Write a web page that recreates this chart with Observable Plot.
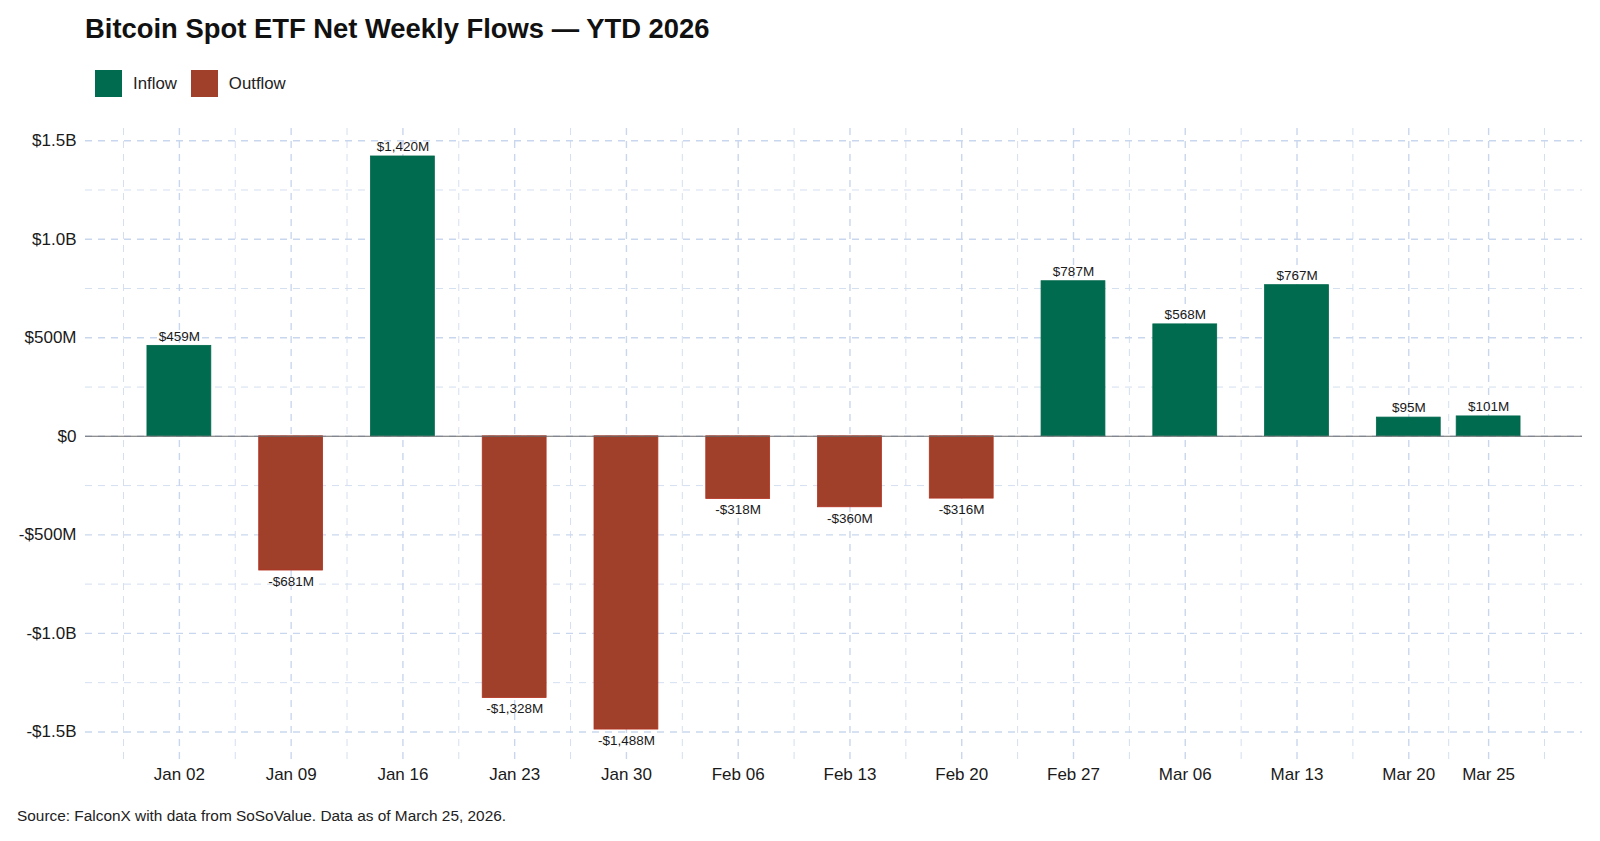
<!DOCTYPE html>
<html>
<head>
<meta charset="utf-8">
<script src="https://cdn.jsdelivr.net/npm/d3@7"></script>
<script src="https://cdn.jsdelivr.net/npm/@observablehq/plot@0.6"></script>
<style>
  html, body { margin: 0; padding: 0; background: #fff; }
  body { width: 1600px; height: 841px; position: relative; font-family: "Liberation Sans", Arial, sans-serif; color: #111; overflow: hidden; }
  #title { position: absolute; left: 85px; top: 12px; font-size: 27.4px; font-weight: bold; color: #111; white-space: nowrap; line-height: 34px; }
  #legend { position: absolute; left: 95px; top: 70px; display: flex; align-items: center; font-size: 16.8px; color: #222; }
  .sw { width: 27px; height: 27px; display: inline-block; }
  .lab { margin-left: 11px; margin-right: 14px; }
  #chart { position: absolute; left: 0; top: 110px; }
  #caption { position: absolute; left: 17px; top: 807px; font-size: 15.4px; color: #222; white-space: nowrap; line-height: 18px; }
</style>
</head>
<body>
<div id="title">Bitcoin Spot ETF Net Weekly Flows — YTD 2026</div>
<div id="legend">
  <span class="sw" style="background:#006b4f"></span><span class="lab">Inflow</span>
  <span class="sw" style="background:#a0402b"></span><span class="lab">Outflow</span>
</div>
<div id="chart"></div>
<div id="caption">Source: FalconX with data from SoSoValue. Data as of March 25, 2026.</div>
<script>
// Data
const weeks = ["2026-01-02","2026-01-09","2026-01-16","2026-01-23","2026-01-30","2026-02-06","2026-02-13","2026-02-20","2026-02-27","2026-03-06","2026-03-13","2026-03-20","2026-03-25"];
const weekLabels = ["Jan 02","Jan 09","Jan 16","Jan 23","Jan 30","Feb 06","Feb 13","Feb 20","Feb 27","Mar 06","Mar 13","Mar 20","Mar 25"];
const flowsM = [459, -681, 1420, -1328, -1488, -318, -360, -316, 787, 568, 767, 95, 101];
const yTicks = [-1500, -1000, -500, 0, 500, 1000, 1500];
const yTickLabels = ["-$1.5B", "-$1.0B", "-$500M", "$0", "$500M", "$1.0B", "$1.5B"];
const colors = {Inflow: "#006b4f", Outflow: "#a0402b"};

const DAY = 86400000;
const dates = weeks.map(d => new Date(d + "T00:00:00Z"));
const rows = dates.map((d, i) => ({
  date: d,
  x1: new Date(+d - 2 * DAY),
  x2: new Date(+d + 2 * DAY),
  value: flowsM[i],
  type: flowsM[i] >= 0 ? "Inflow" : "Outflow",
  label: (flowsM[i] < 0 ? "-$" : "$") + d3.format(",")(Math.abs(flowsM[i])) + "M"
}));

// minor vertical breaks (midpoints, extended one half-step at each end)
const minorX = [];
minorX.push(new Date(+dates[0] - 3.5 * DAY));
for (let i = 0; i < dates.length - 1; i++) minorX.push(new Date((+dates[i] + +dates[i + 1]) / 2));
minorX.push(new Date(+dates[dates.length - 1] + 3.5 * DAY));
const minorY = [];
for (let i = 0; i < yTicks.length - 1; i++) minorY.push((yTicks[i] + yTicks[i + 1]) / 2);

const xDomain = [new Date(+dates[0] - 5.88 * DAY), new Date(+dates[dates.length - 1] + 5.88 * DAY)];
const labelMap = new Map(dates.map((d, i) => [+d, weekLabels[i]]));
const yLabelMap = new Map(yTicks.map((v, i) => [v, yTickLabels[i]]));

const gridMajor = {stroke: "#c9d7ee", strokeWidth: 1.4, strokeDasharray: "7,6"};
const gridMinor = {stroke: "#d4dff0", strokeWidth: 1, strokeDasharray: "7,6"};

const chart = Plot.plot({
  width: 1600,
  height: 690,
  marginLeft: 85,
  marginRight: 18,
  marginTop: 18,
  marginBottom: 40,
  style: {fontFamily: "'Liberation Sans', Arial, sans-serif", background: "#fff"},
  x: {type: "utc", domain: xDomain},
  y: {domain: [-1645, 1562]},
  marks: [
    Plot.ruleX(minorX, {...gridMinor}),
    Plot.ruleY(minorY, {...gridMinor}),
    Plot.ruleX(dates, {...gridMajor}),
    Plot.ruleY(yTicks, {...gridMajor}),
    Plot.rectY(rows, {
      x1: "x1", x2: "x2", y1: 0, y2: "value",
      fill: d => colors[d.type],
      stroke: d => d.type === "Outflow" ? "#b3301e" : "#00684c",
      strokeWidth: 0.8
    }),
    Plot.ruleY([0], {stroke: "#6b6b6b", strokeWidth: 1.1}),
    Plot.text(rows.filter(d => d.value >= 0), {
      x: "date", y: "value", text: "label", dy: -9.5,
      fontSize: 13.5, fill: "#1a1a1a"
    }),
    Plot.text(rows.filter(d => d.value < 0), {
      x: "date", y: "value", text: "label", dy: 11,
      fontSize: 13.5, fill: "#1a1a1a"
    }),
    Plot.axisX(dates, {tickSize: 0, tickPadding: 7, fontSize: 17, fill: "#1a1a1a", tickFormat: d => labelMap.get(+d), label: null}),
    Plot.axisY(yTicks, {tickSize: 0, tickPadding: 9, fontSize: 17, fill: "#1a1a1a", tickFormat: v => yLabelMap.get(v), label: null})
  ]
});

document.getElementById("chart").appendChild(chart);
</script>
</body>
</html>
